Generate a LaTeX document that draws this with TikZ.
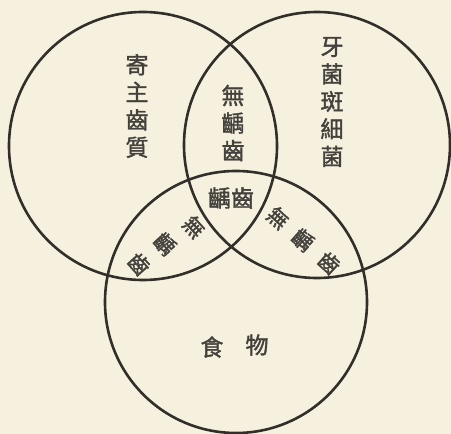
\documentclass[tikz,border=0pt]{standalone}
\usepackage{fontspec}
\newfontfamily\cjk[FakeBold=1.6]{Noto Sans CJK TC}
\definecolor{paper}{RGB}{246,241,222}
\definecolor{ink}{RGB}{50,47,43}
\definecolor{txt}{RGB}{68,65,60}
\tikzset{
  ring/.style={draw=ink,line width=2.6pt},
  lbl/.style={font=\cjk\fontsize{23}{27.5}\selectfont,text=txt,inner sep=0pt,align=center},
  ch/.style={font=\cjk\fontsize{23}{24}\selectfont,text=txt,inner sep=0pt},
  rch/.style={font=\cjk\fontsize{21}{24}\selectfont,text=txt,inner sep=0pt}
}
\begin{document}
\begin{tikzpicture}[x=1pt,y=1pt]
\fill[paper] (0,0) rectangle (451,434);
\useasboundingbox (0,0) rectangle (451,434);
% circles
\draw[ring] (143,288) circle (134);
\draw[ring] (317,289) circle (133);
\draw[ring] (236,132) circle (131);
% labels
\node[lbl] (host) at (137,328) {寄\\主\\齒\\質};
\node[lbl] (plaque) at (332,332) {牙\\菌\\斑\\細\\菌};
\node[lbl] (top) at (233,311) {無\\齲\\齒};
\node[ch] (caries) at (231,236) {齲齒};
\node[ch] (food1) at (212,87) {食};
\node[ch] (food2) at (257,89) {物};
% left rotated
\node[rch,rotate=-48] (l1) at (194,207) {無};
\node[rch,rotate=-48] (l2) at (165,190) {齲};
\node[rch,rotate=-48] (l3) at (139,170) {齒};
% right rotated
\node[rch,rotate=-42] (r1) at (278,216) {無};
\node[rch,rotate=-42] (r2) at (303,194) {齲};
\node[rch,rotate=-42] (r3) at (329,171) {齒};
\end{tikzpicture}
\end{document}
